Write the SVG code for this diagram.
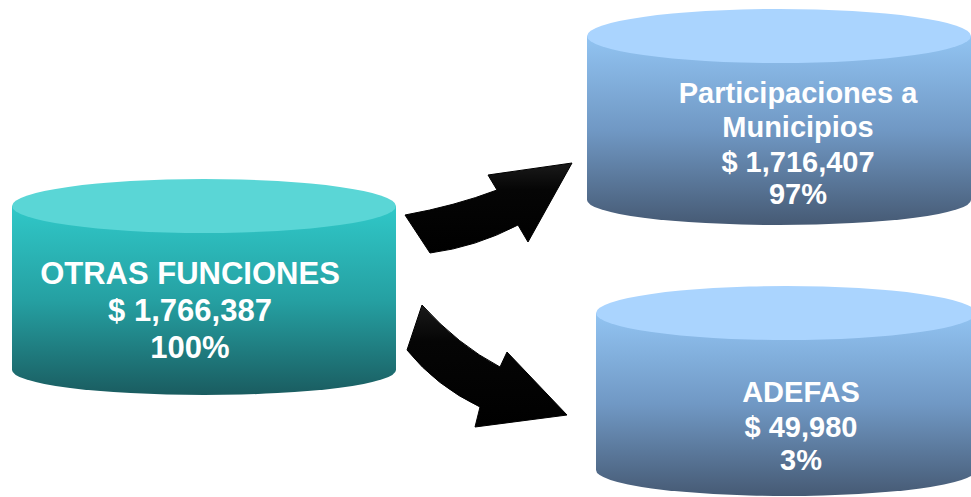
<svg xmlns="http://www.w3.org/2000/svg" width="971" height="497" viewBox="0 0 971 497">
<defs>
<linearGradient id="tealBody" x1="0" y1="0" x2="0" y2="1">
<stop offset="0" stop-color="#30C8C8"/>
<stop offset="0.5" stop-color="#25A0A2"/>
<stop offset="1" stop-color="#1A5C60"/>
</linearGradient>
<linearGradient id="blueBody" x1="0" y1="0" x2="0" y2="1">
<stop offset="0" stop-color="#92C4F2"/>
<stop offset="0.5" stop-color="#7098C4"/>
<stop offset="1" stop-color="#465A74"/>
</linearGradient>
<linearGradient id="arrowFill" x1="0" y1="0" x2="0" y2="1">
<stop offset="0" stop-color="#1a1a1a"/>
<stop offset="0.3" stop-color="#050505"/>
<stop offset="1" stop-color="#000"/>
</linearGradient>
</defs>
<style>
.lbl{font-family:"Liberation Sans",Arial,sans-serif;font-weight:bold;fill:#fff;text-anchor:middle}
.arrow{fill:url(#arrowFill);stroke:#000;stroke-width:1}
</style>
<rect width="971" height="497" fill="#fff"/>
<g id="otras-funciones">
<path d="M12,206 L12,370 A192,25 0 0 0 396,370 L396,206 Z" fill="url(#tealBody)"/>
<ellipse cx="204" cy="206" rx="192" ry="27" fill="#5AD6D6"/>
<text class="lbl" font-size="31"><tspan x="190" y="284">OTRAS FUNCIONES</tspan><tspan x="190" y="321">$ 1,766,387</tspan><tspan x="190" y="358">100%</tspan></text>
</g>
<g id="participaciones">
<path d="M587,36 L587,200 A192,25 0 0 0 971,200 L971,36 Z" fill="url(#blueBody)"/>
<ellipse cx="779" cy="36" rx="192" ry="27" fill="#AAD4FE"/>
<text class="lbl" font-size="29"><tspan x="798" y="103">Participaciones a</tspan><tspan x="798" y="137">Municipios</tspan><tspan x="798" y="172">$ 1,716,407</tspan><tspan x="798" y="204">97%</tspan></text>
</g>
<g id="adefas">
<path d="M596,313 L596,470 A190,26 0 0 0 976,470 L976,313 Z" fill="url(#blueBody)"/>
<ellipse cx="786" cy="313" rx="190" ry="27" fill="#AAD4FE"/>
<text class="lbl" font-size="29"><tspan x="801" y="402">ADEFAS</tspan><tspan x="801" y="437">$ 49,980</tspan><tspan x="801" y="470">3%</tspan></text>
</g>
<g id="connectors">
<path class="arrow" d="M405,215 Q455,206 497,190 L488,175 L572,163 L528,242 L518,225 Q476,247 430,253 Z"/>
<path class="arrow" d="M422,305 Q458,345 500,367 L507,352 L567,415 L475,427 L480,407 Q436,386 407,350 Z"/>
</g>
</svg>
